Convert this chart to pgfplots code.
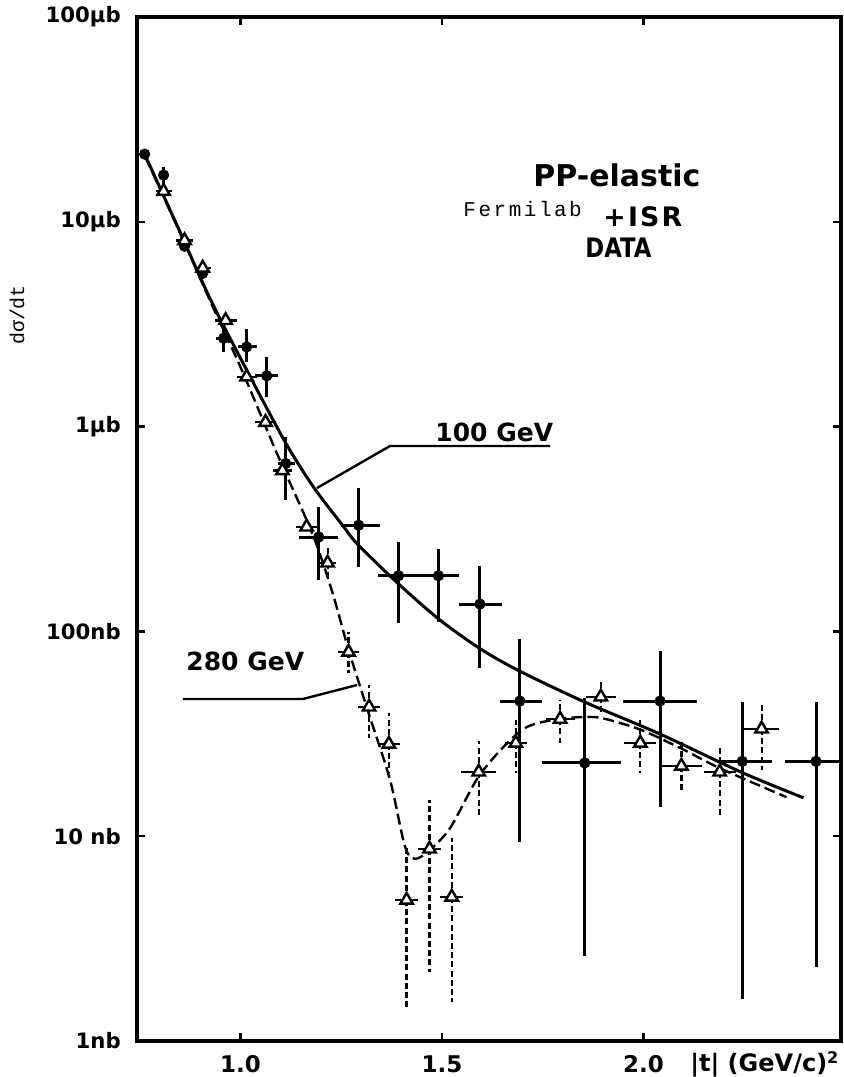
\documentclass[border=0pt]{standalone}
\usepackage{fontspec}
\setmainfont{DejaVu Sans}
\newfontfamily\monofont{Liberation Mono}
\usepackage{pgfplots}
\usepackage{pgfplotstable}
\pgfplotsset{compat=1.18}

% 100 GeV data (filled dots)
\pgfplotstableread{
x      y       ylo      yhi     xlo    xhi
0.762  21.4    21.4     21.4    0.762  0.762
0.809  16.9    15.2     18.5    0.809  0.809
0.861  7.6     7.6      7.6     0.861  0.861
0.906  5.6     5.6      5.6     0.906  0.906
0.958  2.7     2.31     3.06    0.938  0.975
1.015  2.45    2.07     3.0     0.993  1.042
1.065  1.77    1.40     2.19    1.037  1.092
1.112  0.66    0.44     0.89    1.092  1.135
1.194  0.289   0.178    0.405   1.144  1.243
1.293  0.33    0.206    0.50    1.248  1.347
1.392  0.187   0.110    0.274   1.342  1.439
1.491  0.187   0.111    0.252   1.439  1.541
1.594  0.136   0.0662   0.208   1.543  1.648
1.693  0.0457  0.00938  0.0918  1.643  1.749
1.854  0.0228  0.0026   0.0473  1.749  1.945
2.041  0.0457  0.0139   0.080   1.948  2.132
2.245  0.0232  0.0016   0.0452  2.184  2.320
2.428  0.0232  0.0023   0.0452  2.352  2.490
}\dotdata

% 280 GeV data (open triangles)
\pgfplotstableread{
x      y       ylo      yhi     xlo    xhi
0.809  14.1    14.1     14.1    0.789  0.829
0.861  8.1     8.1      8.1     0.841  0.881
0.906  5.95    5.95     5.95    0.886  0.926
0.963  3.3     3.3      3.3     0.936  0.990
1.015  1.75    1.75     1.75    0.990  1.040
1.062  1.05    1.05     1.05    1.037  1.087
1.104  0.61    0.61     0.61    1.080  1.128
1.164  0.324   0.324    0.324   1.138  1.190
1.216  0.216   0.178    0.255   1.195  1.237
1.268  0.0793  0.0627   0.0993  1.241  1.295
1.319  0.0428  0.0301   0.0547  1.291  1.347
1.368  0.0282  0.0204   0.040   1.341  1.395
1.412  0.00488 0.00142  0.00906 1.384  1.440
1.469  0.00867 0.00217  0.0150  1.441  1.497
1.524  0.00505 0.00155  0.0098  1.496  1.552
1.591  0.0206  0.0127   0.0292  1.546  1.633
1.683  0.0285  0.0204   0.0369  1.656  1.710
1.793  0.0373  0.0285   0.0462  1.757  1.829
1.894  0.0479  0.040    0.0566  1.857  1.931
1.992  0.0285  0.0204   0.0369  1.952  2.032
2.094  0.022   0.0164   0.0295  2.044  2.144
2.189  0.0206  0.0127   0.0273  2.149  2.229
2.293  0.0334  0.021    0.0452  2.250  2.336
}\tridata

\begin{document}
\begin{tikzpicture}
\path[use as bounding box] (-68.5pt,-18pt) rectangle (353.5pt,520.5pt);
\begin{axis}[
  at={(0pt,0pt)}, anchor=south west,
  scale only axis, width=352pt, height=512pt,
  xmin=0.743, xmax=2.490,
  ymode=log, ymin=0.001, ymax=100,
  xtick={1,1.5,2}, xticklabels={1.0,1.5,2.0},
  ytick={0.001,0.01,0.1,1,10,100},
  yticklabels={1nb,10 nb,100nb,1μb,10μb,100μb},
  yminorticks=false, xminorticks=false,
  tick align=inside, major tick length=4pt,
  axis line style={line width=1.6pt},
  tick style={line width=1.2pt, black},
  yticklabel style={font=\bfseries\fontsize{10.6}{12}\selectfont, xshift=-4.6pt},
  xticklabel style={font=\bfseries\fontsize{11.5}{13}\selectfont, yshift=-3.6pt},
]
% 100 GeV curve
\addplot[line width=1.5pt, smooth, tension=0.5] coordinates {
(0.762,21.4) (0.85,8.9) (0.926,4.15) (1.017,1.86) (1.112,0.832) (1.181,0.507)
(1.256,0.324) (1.29,0.267) (1.390,0.172) (1.494,0.114) (1.596,0.082)
(1.692,0.0641) (1.854,0.0452) (2.040,0.0316) (2.246,0.0204) (2.397,0.0154)};
% 280 GeV curve
\addplot[line width=1.2pt, dash pattern=on 5.5pt off 2.5pt, smooth, tension=0.5] coordinates {
(0.765,20.5) (0.85,8.8) (0.926,4.05) (1.000,1.95) (1.094,0.711) (1.156,0.380)
(1.191,0.258) (1.231,0.148) (1.268,0.0813) (1.318,0.0398) (1.371,0.0188)
(1.408,0.00891) (1.433,0.00776) (1.468,0.00851) (1.52,0.01096) (1.587,0.01905)
(1.648,0.0267) (1.71,0.0341) (1.787,0.0373) (1.854,0.0382) (1.9,0.0376)
(1.993,0.0331) (2.097,0.0266) (2.189,0.0215) (2.355,0.0155)};
% triangles: horizontal bars (solid)
\addplot[only marks, mark=none, forget plot,
  error bars/.cd, x dir=both, x explicit, error mark=none,
  error bar style={draw=black, solid, line width=1.2pt}]
  table[x=x, y=y, x error plus expr=\thisrow{xhi}-\thisrow{x},
        x error minus expr=\thisrow{x}-\thisrow{xlo}] {\tridata};
% triangles: vertical bars (dashed)
\addplot[only marks, mark=none, forget plot,
  error bars/.cd, y dir=both, y explicit, error mark=none,
  error bar style={draw=black, dash pattern=on 3pt off 1.6pt, line width=1.1pt}]
  table[x=x, y=y, y error plus expr=\thisrow{yhi}-\thisrow{y},
        y error minus expr=\thisrow{y}-\thisrow{ylo}] {\tridata};
% dots with error crosses
\addplot[only marks, mark=*, mark size=2.6pt, black,
  error bars/.cd, x dir=both, x explicit, y dir=both, y explicit, error mark=none,
  error bar style={draw=black, solid, line width=1.5pt}]
  table[x=x, y=y, x error plus expr=\thisrow{xhi}-\thisrow{x},
        x error minus expr=\thisrow{x}-\thisrow{xlo},
        y error plus expr=\thisrow{yhi}-\thisrow{y},
        y error minus expr=\thisrow{y}-\thisrow{ylo}] {\dotdata};
% triangle markers
\addplot[only marks, mark=triangle*, mark size=3.6pt,
  mark options={fill=white, draw=black, line width=1.2pt}]
  table[x=x, y=y] {\tridata};
\end{axis}
% annotations
\draw[line width=1.2pt] (90pt,276.5pt) -- (126.5pt,297.5pt) -- (206.5pt,297.5pt);
\node[anchor=base west, inner sep=0pt, font=\bfseries\fontsize{12.5}{14}\selectfont] at (149pt,299.5pt) {100 GeV};
\draw[line width=1.2pt] (23pt,171pt) -- (83pt,171pt) -- (110pt,178pt);
\node[anchor=base west, inner sep=0pt, font=\bfseries\fontsize{12.5}{14}\selectfont] at (24.5pt,185pt) {280 GeV};
\node[anchor=base west, inner sep=0pt, font=\bfseries\fontsize{15}{17}\selectfont] at (198pt,427pt) {PP-elastic};
\node[anchor=base west, inner sep=0pt, font=\monofont\fontsize{10.5}{12}\selectfont\addfontfeature{LetterSpace=12}] at (163pt,412pt) {Fermilab};
\node[anchor=base west, inner sep=0pt, font=\bfseries\fontsize{13.4}{15}\selectfont\addfontfeature{LetterSpace=8}] at (233pt,407pt) {+ISR};
\node[anchor=base west, inner sep=0pt, xscale=0.85, font=\bfseries\fontsize{13.4}{15}\selectfont] at (224pt,391.5pt) {DATA};
\node[anchor=base west, inner sep=0pt, font=\bfseries\fontsize{12}{14}\selectfont] at (276.5pt,-15.5pt) {|t| (GeV/c)\textsuperscript{2}};
\node[rotate=90, inner sep=0pt, font=\monofont\fontsize{10}{11}\selectfont] at (-60pt,363pt) {dσ/dt};
\end{tikzpicture}
\end{document}
